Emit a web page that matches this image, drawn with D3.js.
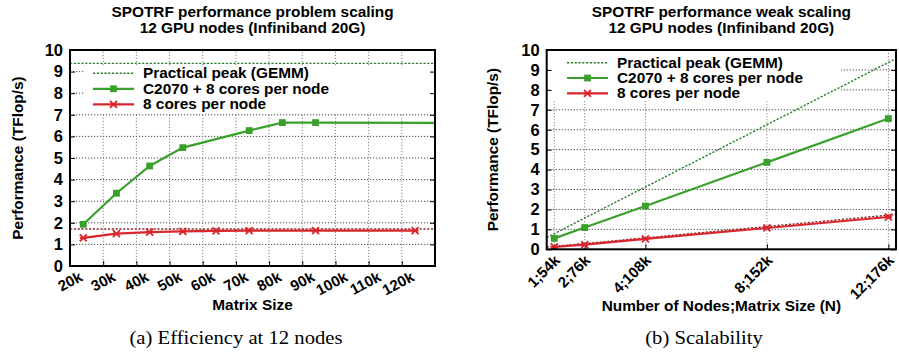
<!DOCTYPE html>
<html><head><meta charset="utf-8">
<script src="https://cdn.jsdelivr.net/npm/d3@7"></script>
<style>
body{margin:0;background:#fff;}
svg{display:block;}
.tick text{font-family:"Liberation Sans",Arial,sans-serif;font-weight:bold;}
</style></head>
<body><svg id="c" width="899" height="356"></svg>
<script>
// ---------- data ----------
const legendLabels = ["Practical peak (GEMM)", "C2070 + 8 cores per node", "8 cores per node"];

// (a) problem scaling at 12 nodes
const sizeTicks = [20000,30000,40000,50000,60000,70000,80000,90000,100000,110000,120000];
const sizeTickLabels = ["20k","30k","40k","50k","60k","70k","80k","90k","100k","110k","120k"];
const gpuSizes = [24000,34000,44000,54000,74000,84000,94000,134000];
const gpuPerf  = [1.93,3.37,4.63,5.48,6.27,6.64,6.64,6.62];
const cpuSizes = [24000,34000,44000,54000,64000,74000,94000,124000];
const cpuPerf  = [1.30,1.50,1.57,1.60,1.63,1.64,1.64,1.64];
const gpuPeakA = 9.38;
const cpuPeakA = 1.71;

// (b) weak scaling
const nodes = [1,2,4,8,12];
const nodeTickLabels = ["1;54k","2;76k","4;108k","8;152k","12;176k"];
const gpuWeak = [0.55,1.09,2.17,4.36,6.56];
const cpuWeak = [0.12,0.23,0.52,1.07,1.62];
const peakNodes = [0.75,12.25];
const gpuPeakB = [0.59,9.57];
const cpuPeakB = [0.11,1.75];

const yTicks = [0,1,2,3,4,5,6,7,8,9,10];

// ---------- style ----------
const GREEN = "#3aa02c", RED = "#d8262c", PEAKG = "#2b7d2b", PEAKR = "#8c2d2d";
const SANS = "'Liberation Sans',Arial,sans-serif";
const FS = 15.4;
const svg = d3.select("#c");

function stext(g, x, y, txt, anchor, extra){
  return g.append("text").attr("transform",`translate(${x},${y})${extra||""}`)
    .attr("text-anchor",anchor||"start").attr("font-family",SANS).attr("font-weight","bold")
    .attr("font-size",FS).attr("fill","#000").text(txt);
}

function marker(g, type, x, y, color){
  if(type==="sq"){
    g.append("rect").attr("x",x-3.4).attr("y",y-3.4).attr("width",6.8).attr("height",6.8).attr("fill",color);
  } else {
    const s=3.5;
    g.append("path").attr("d",`M${x-s},${y-s}L${x+s},${y+s}M${x-s},${y+s}L${x+s},${y-s}M${x-s},${y}L${x+s},${y}`)
      .attr("stroke",color).attr("stroke-width",1.8).attr("fill","none");
  }
}

function panel(o){
  const g = svg.append("g");
  const x = o.x, y = o.y;
  const [x0,x1] = x.range(), [y0,y1] = y.range();
  const id = "clip"+o.id;
  svg.append("defs").append("clipPath").attr("id",id).append("rect")
    .attr("x",x0).attr("y",y1).attr("width",x1-x0).attr("height",y0-y1);

  // grid
  const grid = g.append("g").attr("stroke-width",0.9).attr("stroke-dasharray","1.2,1.8");
  yTicks.slice(1,-1).forEach(v=>grid.append("line").attr("stroke","#333").attr("x1",x0).attr("x2",x1).attr("y1",y(v)).attr("y2",y(v)));
  o.xticks.forEach(v=>grid.append("line").attr("stroke","#777").attr("x1",x(v)).attr("x2",x(v)).attr("y1",y0).attr("y2",y1));

  // legend box (opaque)
  g.append("rect").attr("x",o.box[0]).attr("y",o.box[1]).attr("width",o.box[2]).attr("height",o.box[3]).attr("fill","#fff");

  // axes
  const ya = d3.axisLeft(y).tickValues(yTicks).tickSize(-5).tickPadding(7).tickFormat(d3.format("d"));
  const gy = g.append("g").attr("transform",`translate(${x0},0)`).call(ya);
  gy.selectAll("text").attr("font-size",16.5).attr("fill","#000");
  const yr = d3.axisRight(y).tickValues(yTicks).tickSize(-5).tickFormat("");
  g.append("g").attr("transform",`translate(${x1},0)`).call(yr);
  const xa = d3.axisBottom(x).tickValues(o.xticks).tickSize(-5).tickFormat((d,i)=>o.xlabels[i]);
  const gx = g.append("g").attr("transform",`translate(0,${y0})`).call(xa);
  gx.selectAll("text").attr("font-size",15).attr("fill","#000")
    .attr("text-anchor","end").attr("dy",0).attr("y",0)
    .attr("transform",`translate(${o.lx},${o.ly}) rotate(${o.rot})`);
  g.selectAll(".domain").remove();
  g.selectAll(".tick line").attr("stroke","#000").attr("stroke-width",1);

  // series
  const pg = g.append("g").attr("clip-path",`url(#${id})`);
  const line = d3.line().x(d=>x(d[0])).y(d=>y(d[1]));
  o.peaks.forEach(p=>{
    pg.append("path").attr("d",line(d3.zip(p.x,p.y))).attr("fill","none")
      .attr("stroke",p.c).attr("stroke-width",1.4).attr("stroke-dasharray","2.2,1.6");
  });
  o.series.forEach(s=>{
    pg.append("path").attr("d",line(d3.zip(s.x,s.y))).attr("fill","none")
      .attr("stroke",s.c).attr("stroke-width",2.2);
    d3.zip(s.x,s.y).forEach(d=>{ if(d[0]<=x.domain()[1]) marker(pg,s.m,x(d[0]),y(d[1]),s.c); });
  });

  // frame
  g.append("rect").attr("x",x0).attr("y",y1).attr("width",x1-x0).attr("height",y0-y1)
    .attr("fill","none").attr("stroke","#000").attr("stroke-width",2);

  // legend
  const L = o.leg;
  const rows = [{c:PEAKG,dash:true},{c:GREEN,m:"sq"},{c:RED,m:"x"}];
  rows.forEach((r,i)=>{
    const yy = L.y + i*L.dy;
    g.append("line").attr("x1",L.x).attr("x2",L.x+L.w).attr("y1",yy).attr("y2",yy)
      .attr("stroke",r.c).attr("stroke-width",r.dash?1.4:2.2).attr("stroke-dasharray",r.dash?"2.2,1.6":null);
    if(r.m) marker(g,r.m,L.x+L.w/2,yy,r.c);
    stext(g, L.tx, yy+5, legendLabels[i]);
  });

  // titles and labels
  const cx = (x0+x1)/2;
  o.title.forEach((t,i)=>stext(g, cx, 17+i*16, t, "middle"));
  stext(g, o.ylx, (y0+y1)/2, "Performance (TFlop/s)", "middle", " rotate(-90)");
  stext(g, cx, o.xly, o.xlabel, "middle");
  g.append("text").attr("transform",`translate(${o.capx},344) scale(1.1,1)`).attr("text-anchor","middle")
    .attr("font-family","'Liberation Serif','Times New Roman',serif").attr("font-size",18.8).text(o.caption);
}

const xA = d3.scaleLinear().domain([20000,130000]).range([70,435]);
const yA = d3.scaleLinear().domain([0,10]).range([266,50]);
panel({id:"a", x:xA, y:yA, xticks:sizeTicks, xlabels:sizeTickLabels, lx:13, ly:14, rot:-28,
  box:[84,67,350,46],
  peaks:[{x:[20000,130000],y:[gpuPeakA,gpuPeakA],c:PEAKG},{x:[20000,130000],y:[cpuPeakA,cpuPeakA],c:PEAKR}],
  series:[{x:gpuSizes,y:gpuPerf,c:GREEN,m:"sq"},{x:cpuSizes,y:cpuPerf,c:RED,m:"x"}],
  leg:{x:93,w:41,tx:143,y:73.3,dy:15.5},
  title:["SPOTRF performance problem scaling","12 GPU nodes (Infiniband 20G)"],
  ylx:22.5, xly:310, xlabel:"Matrix Size", caption:"(a) Efficiency at 12 nodes", capx:236});

const xB = d3.scaleLinear().domain([0.75,12.25]).range([546.7,896]);
const yB = d3.scaleLinear().domain([0,10]).range([249.3,50]);
panel({id:"b", x:xB, y:yB, xticks:nodes, xlabels:nodeTickLabels, lx:6, ly:12, rot:-45,
  box:[548,51,293,50],
  peaks:[{x:peakNodes,y:gpuPeakB,c:PEAKG},{x:peakNodes,y:cpuPeakB,c:PEAKR}],
  series:[{x:nodes,y:gpuWeak,c:GREEN,m:"sq"},{x:nodes,y:cpuWeak,c:RED,m:"x"}],
  leg:{x:567,w:41,tx:617,y:62.7,dy:15.3},
  title:["SPOTRF performance weak scaling","12 GPU nodes (Infiniband 20G)"],
  ylx:498, xly:311, xlabel:"Number of Nodes;Matrix Size (N)", caption:"(b) Scalability", capx:704});
</script></body></html>
